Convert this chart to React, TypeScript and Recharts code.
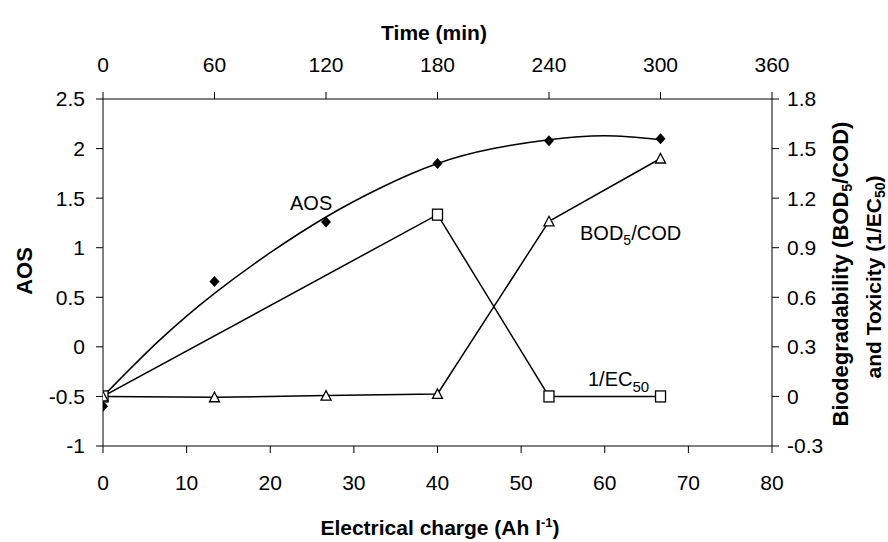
import { ComposedChart, Line, XAxis, YAxis, Customized } from 'recharts';

// electrical charge (Ah/l) at each sampling point
const charge = [0, 13.33, 26.67, 40, 53.33, 66.67];
const aosValues = [-0.6, 0.66, 1.26, 1.85, 2.08, 2.1];
const bodCod = [0, -0.005, 0.005, 0.015, 1.06, 1.44];

const ec50Charge = [0, 40, 53.33, 66.67];
const ec50Values = [0, 1.1, 0, 0];

// AOS trend curve
const trendCharge = [0, 6.67, 13.33, 20, 26.67, 33.33, 40, 46.67, 53.33, 60, 66.67];
const trendValues = [-0.5, 0.06, 0.54, 0.95, 1.31, 1.61, 1.85, 2.0, 2.09, 2.13, 2.09];

const chargeTicks = [0, 10, 20, 30, 40, 50, 60, 70, 80];
const timeTicks = [0, 60, 120, 180, 240, 300, 360];
const aosTicks = [-1, -0.5, 0, 0.5, 1, 1.5, 2, 2.5];
const rightTicks = [-0.3, 0, 0.3, 0.6, 0.9, 1.2, 1.5, 1.8];

const aosData = charge.map((x, i) => ({ x, y: aosValues[i] }));
const bodData = charge.map((x, i) => ({ x, y: bodCod[i] }));
const ecData = ec50Charge.map((x, i) => ({ x, y: ec50Values[i] }));
const trendData = trendCharge.map((x, i) => ({ x, y: trendValues[i] }));

const FONT = 'Liberation Sans, Arial, sans-serif';
const tickStyle = { fill: '#000', fontSize: 21, fontFamily: FONT };

const Diamond = (props: any) => {
  const { cx, cy } = props;
  if (cx == null || cy == null) return null;
  return <polygon points={`${cx},${cy - 5.5} ${cx + 5},${cy} ${cx},${cy + 5.5} ${cx - 5},${cy}`} fill="#000" />;
};

const Triangle = (props: any) => {
  const { cx, cy } = props;
  if (cx == null || cy == null) return null;
  return <polygon points={`${cx},${cy - 5} ${cx + 5},${cy + 4.5} ${cx - 5},${cy + 4.5}`} fill="#fff" stroke="#000" strokeWidth={1.3} />;
};

const Square = (props: any) => {
  const { cx, cy } = props;
  if (cx == null || cy == null) return null;
  return <rect x={cx - 5} y={cy - 5.5} width={10} height={11} fill="#fff" stroke="#000" strokeWidth={1.3} />;
};

const Titles = () => (
  <g fontFamily={FONT} fill="#000">
    <text x={434} y={40} textAnchor="middle" fontSize={21} fontWeight="bold">Time (min)</text>
    <text x={440} y={535} textAnchor="middle" fontSize={21} fontWeight="bold">
      Electrical charge (Ah l<tspan dy={-8} fontSize={13}>-1</tspan><tspan dy={8}>)</tspan>
    </text>
    <text x={32} y={271} transform="rotate(-90 32 271)" textAnchor="middle" fontSize={22} fontWeight="bold">AOS</text>
    <text x={848} y={274} transform="rotate(-90 848 274)" textAnchor="middle" fontSize={22} fontWeight="bold">
      Biodegradability (BOD<tspan dy={4} fontSize={14}>5</tspan><tspan dy={-4}>/COD)</tspan>
    </text>
    <text x={881} y={277} transform="rotate(-90 881 277)" textAnchor="middle" fontSize={21} fontWeight="bold">
      and Toxicity (1/EC<tspan dy={4} fontSize={14}>50</tspan><tspan dy={-4}>)</tspan>
    </text>
    <text x={290} y={210} fontSize={20}>AOS</text>
    <text x={580} y={240} fontSize={20}>
      BOD<tspan dy={5} fontSize={14}>5</tspan><tspan dy={-5}>/COD</tspan>
    </text>
    <text x={588} y={386} fontSize={20}>
      1/EC<tspan dy={6} fontSize={15}>50</tspan>
    </text>
  </g>
);

export default function App() {
  return (
    <div style={{ position: 'absolute', left: 0, top: 0, background: '#fff' }}>
      <ComposedChart width={888} height={542} margin={{ top: 69, right: 66, left: 43, bottom: 56 }}>
        <XAxis
          xAxisId="bottom"
          type="number"
          dataKey="x"
          domain={[0, 80]}
          ticks={chargeTicks}
          tick={tickStyle}
          tickSize={7}
          tickMargin={22}
          height={40}
          stroke="#000"
          allowDataOverflow
        />
        <XAxis
          xAxisId="top"
          orientation="top"
          type="number"
          dataKey="x"
          domain={[0, 360]}
          ticks={timeTicks}
          tick={tickStyle}
          tickSize={7}
          tickMargin={20}
          height={30}
          stroke="#000"
          allowDataOverflow
        />
        <YAxis
          yAxisId="left"
          type="number"
          domain={[-1, 2.5]}
          ticks={aosTicks}
          tick={tickStyle}
          tickSize={7}
          tickMargin={11}
          width={60}
          stroke="#000"
          allowDataOverflow
        />
        <YAxis
          yAxisId="right"
          orientation="right"
          type="number"
          domain={[-0.3, 1.8]}
          ticks={rightTicks}
          tick={tickStyle}
          tickSize={7}
          tickMargin={8}
          width={50}
          stroke="#000"
          allowDataOverflow
        />
        <Line
          data={trendData}
          xAxisId="bottom"
          yAxisId="left"
          dataKey="y"
          type="natural"
          stroke="#000"
          strokeWidth={1.5}
          dot={false}
          isAnimationActive={false}
        />
        <Line
          data={ecData}
          xAxisId="bottom"
          yAxisId="right"
          dataKey="y"
          type="linear"
          stroke="#000"
          strokeWidth={1.5}
          dot={<Square />}
          isAnimationActive={false}
        />
        <Line
          data={bodData}
          xAxisId="bottom"
          yAxisId="right"
          dataKey="y"
          type="linear"
          stroke="#000"
          strokeWidth={1.5}
          dot={<Triangle />}
          isAnimationActive={false}
        />
        <Line
          data={aosData}
          xAxisId="bottom"
          yAxisId="left"
          dataKey="y"
          type="linear"
          stroke="none"
          dot={<Diamond />}
          isAnimationActive={false}
        />
        <Customized component={Titles} />
      </ComposedChart>
    </div>
  );
}
